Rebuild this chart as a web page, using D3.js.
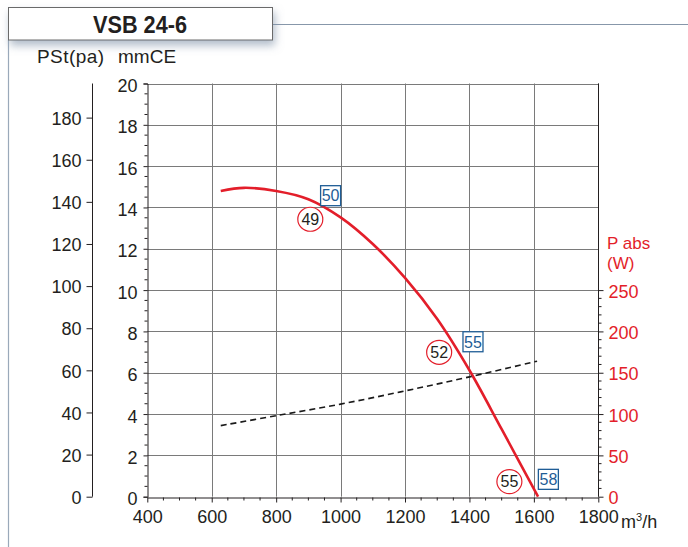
<!DOCTYPE html>
<html>
<head>
<meta charset="utf-8">
<script src="https://cdn.jsdelivr.net/npm/d3@7"></script>
<style>
  html, body { margin: 0; padding: 0; background: #fff; }
  svg { display: block; }
  text { font-family: "Liberation Sans", Arial, sans-serif; }
</style>
</head>
<body>
<svg id="chart" width="688" height="547"></svg>
<script>
// ---------- data ----------
const title = "VSB 24-6";
const xTicks = [400, 600, 800, 1000, 1200, 1400, 1600, 1800];
const mmTicks = [0, 2, 4, 6, 8, 10, 12, 14, 16, 18, 20];
const paTicks = [0, 20, 40, 60, 80, 100, 120, 140, 160, 180];
const wTicks = [0, 50, 100, 150, 200, 250];

// pressure curve (mmCE) vs flow (m3/h)
const flowP = [628, 700, 800, 900, 1000, 1100, 1200, 1300, 1400, 1500, 1613];
const pressure = [14.8, 14.95, 14.8, 14.4, 13.52, 12.23, 10.59, 8.6, 6.12, 3.27, 0];

// absorbed power (W) vs flow
const flowW = [628, 800, 1000, 1200, 1400, 1610];
const power = [86, 98, 112, 128, 145, 164];

// noise annotations: circles (red) and boxes (blue)
const circleFlow = [906, 1306, 1524];
const circleP = [13.43, 6.99, 0.73];
const circleLabel = ["49", "52", "55"];
const boxFlow = [969, 1411, 1645];
const boxP = [14.57, 7.5, 0.84];
const boxLabel = ["50", "55", "58"];

// ---------- scales ----------
const svg = d3.select("#chart");
const x = d3.scaleLinear().domain([400, 1800]).range([147.3, 598.3]);
const y = d3.scaleLinear().domain([0, 20]).range([496.7, 83.5]);
const yPa = d3.scaleLinear().domain([0, 20 * 9.81]).range([496.7, 83.5]);
const yW = d3.scaleLinear().domain([0, 500]).range([496.7, 83.5]);

const red = "#e31e2a";
const blue = "#1f5d96";
const ink = "#231f20";
const grid = "#7a7a7a";

// ---------- frame & title ----------
const defs = svg.append("defs");
const f = defs.append("filter").attr("id", "sh").attr("x", "-10%").attr("y", "-30%").attr("width", "130%").attr("height", "190%");
f.append("feDropShadow").attr("dx", 2).attr("dy", 5).attr("stdDeviation", 4.5).attr("flood-color", "#7d8fa5").attr("flood-opacity", 0.6);

svg.append("line").attr("x1", 272).attr("x2", 688).attr("y1", 24.5).attr("y2", 24.5)
  .attr("stroke", "#8797aa").attr("stroke-width", 1);
svg.append("line").attr("x1", 8.5).attr("x2", 8.5).attr("y1", 40).attr("y2", 547)
  .attr("stroke", "#9aa9ba").attr("stroke-width", 1.2);
svg.append("rect").attr("x", 8.5).attr("y", 7.5).attr("width", 264).attr("height", 32.5)
  .attr("fill", "#fff").attr("stroke", "#6b6b6b").attr("stroke-width", 1).attr("filter", "url(#sh)");
svg.append("text").attr("x", 140).attr("y", 33).attr("text-anchor", "middle")
  .attr("font-family", "'Liberation Sans Narrow','DejaVu Sans Condensed','Open Sans',sans-serif")
  .attr("font-weight", "bold").attr("font-size", 24).attr("fill", ink)
  .attr("textLength", 94).attr("lengthAdjust", "spacingAndGlyphs")
  .text(title);

// axis titles
svg.append("text").attr("x", 37).attr("y", 63).attr("font-size", 19).attr("fill", ink)
  .attr("textLength", 67).attr("lengthAdjust", "spacing").text("PSt(pa)");
svg.append("text").attr("x", 118).attr("y", 63).attr("font-size", 19).attr("fill", ink).text("mmCE");

// ---------- grid ----------
const g = svg.append("g");
g.selectAll(".hg").data(mmTicks.filter(d => d > 0)).join("line")
  .attr("x1", x(400)).attr("x2", x(1800))
  .attr("y1", d => Math.round(y(d)) + 0.5).attr("y2", d => Math.round(y(d)) + 0.5)
  .attr("stroke", grid).attr("stroke-width", 1);
g.selectAll(".vg").data(xTicks.filter(d => d > 400)).join("line")
  .attr("x1", d => Math.round(x(d)) + 0.5).attr("x2", d => Math.round(x(d)) + 0.5)
  .attr("y1", y(20)).attr("y2", y(0))
  .attr("stroke", grid).attr("stroke-width", 1);

// ---------- mmCE axis (left, inner) ----------
const mmAxis = d3.axisLeft(y).tickValues(mmTicks).tickSize(4).tickPadding(6).tickFormat(d3.format("d"));
const gmm = svg.append("g").attr("transform", `translate(${Math.round(x(400)) + 0.5},0)`).call(mmAxis);
gmm.select(".domain").attr("stroke", ink);
gmm.selectAll(".tick line").attr("stroke", ink);
gmm.selectAll("text").attr("font-size", 18).attr("fill", ink).attr("font-family", "'Liberation Sans', Arial, sans-serif").attr("dy", "0.45em");
const mmMinor = d3.range(0.5, 20, 0.5).filter(v => v % 2 !== 0);
svg.append("g").selectAll("line").data(mmMinor).join("line")
  .attr("x1", Math.round(x(400)) + 0.5 - 3).attr("x2", Math.round(x(400)) + 0.5)
  .attr("y1", d => y(d)).attr("y2", d => y(d)).attr("stroke", ink).attr("stroke-width", 1);

// ---------- Pa axis (far left) ----------
const paAxis = d3.axisLeft(yPa).tickValues(paTicks).tickSize(6).tickPadding(5).tickSizeOuter(0);
const gpa = svg.append("g").attr("transform", "translate(92.5,0)").call(paAxis);
gpa.select(".domain").attr("stroke", ink).attr("d", `M0,${y(20)}V${y(0)}`);
gpa.selectAll(".tick line").attr("stroke", ink);
gpa.selectAll("text").attr("font-size", 18).attr("fill", ink).attr("font-family", "'Liberation Sans', Arial, sans-serif").attr("dy", "0.37em");

// ---------- x axis ----------
const xAxis = d3.axisBottom(x).tickValues(xTicks).tickSize(5).tickPadding(8).tickSizeOuter(0).tickFormat(d3.format("d"));
const gx = svg.append("g").attr("transform", `translate(0,${Math.round(y(0)) + 0.5})`).call(xAxis);
gx.select(".domain").attr("stroke", ink);
gx.selectAll(".tick line").attr("stroke", ink);
gx.selectAll("text").attr("font-size", 18).attr("fill", ink).attr("font-family", "'Liberation Sans', Arial, sans-serif");
const xMinor = d3.range(450, 1800, 50).filter(v => v % 200 !== 0);
svg.append("g").selectAll("line").data(xMinor).join("line")
  .attr("x1", d => x(d)).attr("x2", d => x(d))
  .attr("y1", Math.round(y(0)) + 0.5).attr("y2", Math.round(y(0)) + 3.5)
  .attr("stroke", ink).attr("stroke-width", 1);
const unit = svg.append("text").attr("x", 621).attr("y", 528).attr("font-size", 18).attr("fill", ink);
unit.append("tspan").text("m");
unit.append("tspan").attr("font-size", 11).attr("dy", -7).text("3");
unit.append("tspan").attr("dy", 7).text("/h");

// ---------- W axis (right) ----------
const wAxis = d3.axisRight(yW).tickValues(wTicks).tickSize(5).tickPadding(5).tickSizeOuter(0);
const gw = svg.append("g").attr("transform", `translate(${Math.round(x(1800)) + 0.5},0)`).call(wAxis);
gw.select(".domain").attr("stroke", ink).attr("d", `M0,${y(20)}V${y(0)}`);
gw.selectAll(".tick line").attr("stroke", ink);
gw.selectAll("text").attr("font-size", 18).attr("fill", red).attr("font-family", "'Liberation Sans', Arial, sans-serif").attr("dy", "0.4em");
const wMinor = d3.range(10, 250, 10).filter(v => v % 50 !== 0);
svg.append("g").selectAll("line").data(wMinor).join("line")
  .attr("x1", Math.round(x(1800)) + 0.5).attr("x2", Math.round(x(1800)) + 3.5)
  .attr("y1", d => yW(d)).attr("y2", d => yW(d)).attr("stroke", ink).attr("stroke-width", 1);
svg.append("text").attr("x", 607).attr("y", 249).attr("font-size", 17).attr("fill", red).text("P abs");
svg.append("text").attr("x", 607).attr("y", 269).attr("font-size", 17).attr("fill", red).text("(W)");

// ---------- curves ----------
const lineP = d3.line().x((d, i) => x(flowP[i])).y(d => y(d)).curve(d3.curveCatmullRom.alpha(0.5));
svg.append("path").datum(pressure).attr("d", lineP)
  .attr("fill", "none").attr("stroke", red).attr("stroke-width", 2.6).attr("stroke-linecap", "butt");

const lineW = d3.line().x((d, i) => x(flowW[i])).y(d => yW(d)).curve(d3.curveCatmullRom.alpha(0.5));
svg.append("path").datum(power).attr("d", lineW)
  .attr("fill", "none").attr("stroke", "#1a1a1a").attr("stroke-width", 1.6).attr("stroke-dasharray", "6,4");

// ---------- annotations ----------
const ca = svg.append("g").selectAll("g").data(circleLabel).join("g")
  .attr("transform", (d, i) => `translate(${x(circleFlow[i])},${y(circleP[i])})`);
ca.append("ellipse").attr("rx", 12.5).attr("ry", 12).attr("fill", "#fff").attr("stroke", red).attr("stroke-width", 1.2);
ca.append("text").attr("text-anchor", "middle").attr("dy", "0.36em").attr("font-size", 16).attr("fill", ink).text(d => d);

const ba = svg.append("g").selectAll("g").data(boxLabel).join("g")
  .attr("transform", (d, i) => `translate(${x(boxFlow[i])},${y(boxP[i])})`);
ba.append("rect").attr("x", -10).attr("y", -10).attr("width", 20).attr("height", 20)
  .attr("fill", "#fff").attr("stroke", blue).attr("stroke-width", 1.3);
ba.append("text").attr("text-anchor", "middle").attr("dy", "0.36em").attr("font-size", 16).attr("fill", blue).text(d => d);
</script>
</body>
</html>
